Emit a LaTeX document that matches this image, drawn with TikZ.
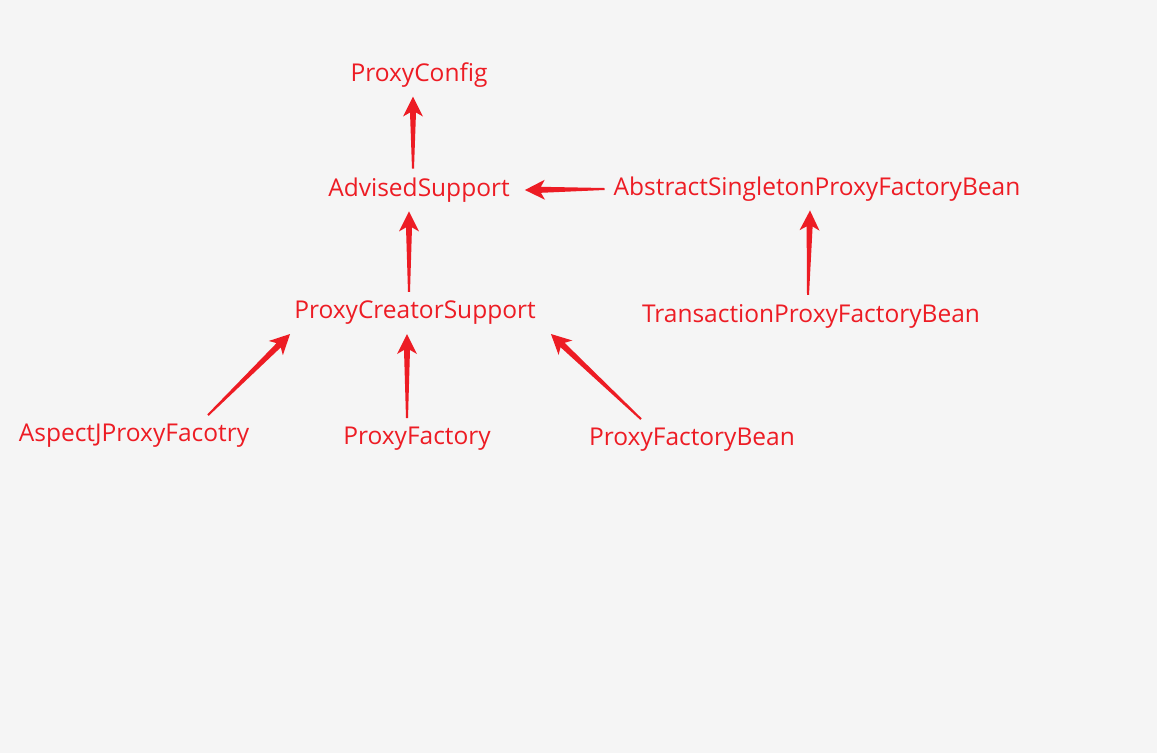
\documentclass[tikz,border=0pt]{standalone}
\usepackage{fontspec}
\setmainfont{Open Sans}
\usepackage{tikz}
\usetikzlibrary{calc}
\definecolor{markred}{RGB}{237,28,36}
\definecolor{canvas}{RGB}{245,245,245}
\tikzset{cls/.style={
    text=markred,
    inner sep=9pt,
    font=\fontsize{24.5}{28}\selectfont
  }
}
\newcommand{\fatarrow}[2]{%
  \path #1 coordinate (t) #2 coordinate (h)
    ($(h)!16pt!(t)$) coordinate (b) ($(h)!20pt!(t)$) coordinate (c);
  \fill[markred] ($(t)!1pt!90:(h)$) -- ($(b)!3pt!-90:(t)$) -- ($(c)!10pt!-90:(t)$)
    -- (h) -- ($(c)!10pt!90:(t)$) -- ($(b)!3pt!90:(t)$) -- ($(t)!1pt!-90:(h)$) -- cycle;
}

\begin{document}
\begin{tikzpicture}[x=1pt,y=-1pt]
    \fill[canvas] (0,0) rectangle (1157,753);
    \node[cls] (cfg)  at (419,75)  {ProxyConfig};
    \node[cls] (adv)  at (419,190) {AdvisedSupport};
    \node[cls] (abs)  at (817,189) {AbstractSingletonProxyFactoryBean};
    \node[cls] (pcs)  at (415,313) {ProxyCreatorSupport};
    \node[cls] (tpfb) at (811,316) {TransactionProxyFactoryBean};
    \node[cls] (aspj) at (134,436) {AspectJProxyFacotry};
    \node[cls] (pf)   at (417,439) {ProxyFactory};
    \node[cls] (pfb)  at (692,440) {ProxyFactoryBean};
    % arrows
    \fatarrow{([xshift=-6pt]adv.north)}{([xshift=-6pt]cfg.south)}
    \fatarrow{(abs.west)}{([xshift=6pt]adv.east)}
    \fatarrow{([xshift=-6pt]pcs.north)}{([xshift=-10pt]adv.south)}
    \fatarrow{([xshift=-3pt]tpfb.north)}{([xshift=-7pt]abs.south)}
    \fatarrow{([xshift=74pt]aspj.north)}{([xshift=5pt]pcs.south west)}
    \fatarrow{([xshift=-10pt]pf.north)}{([xshift=-8pt]pcs.south)}
    \fatarrow{([xshift=-51pt]pfb.north)}{([xshift=6pt]pcs.south east)}
\end{tikzpicture}
\end{document}
